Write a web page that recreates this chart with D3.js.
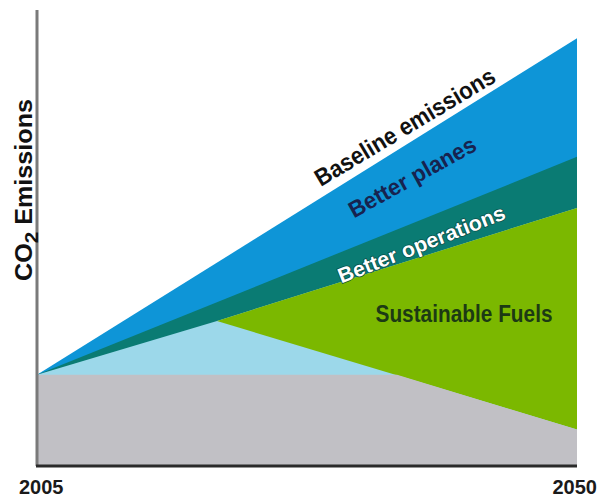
<!DOCTYPE html>
<html lang="en">
<head>
  <meta charset="UTF-8">
  <script src="https://d3js.org/d3.v7.min.js"></script>
  <title>CO2 emissions wedges</title>
  <style>
  body {
    margin:0;
    background-color:#fff;
    font-family: "Liberation Sans", Arial, sans-serif;
  }
  .lbl {
    font-weight: bold;
  }
  </style>
</head>
<body>
  <svg id="chart" width="602" height="501"></svg>

  <script>
  // values (emission index, 2005 = 1)
  const baselineYears = [2005, 2050];
  const baselineVals  = [1.0, 4.69];

  const planesYears = [2005, 2050];
  const planesVals  = [1.0, 3.39];

  const opsYears = [2005, 2020, 2050];
  const opsVals  = [1.0, 1.59, 2.83];

  const fuelsYears = [2020, 2050];
  const fuelsVals  = [1.59, 0.40];

  const capYears = [2005, 2035, 2050];
  const capVals  = [1.0, 1.0, 0.40];

  const xTicks = [2005, 2050];

  let svg = d3.select("#chart");

  let x = d3.scaleLinear().domain([2005, 2050]).range([37, 577]);
  let y = d3.scaleLinear().domain([0, 5]).range([466, 10]);

  function pts(years, vals){
    return years.map((d,i) => ({year:d, v:vals[i]}));
  }

  let area = d3.area()
    .x(d => x(d.year))
    .y0(y(0))
    .y1(d => y(d.v));

  // layers, painted back to front
  svg.append("path").datum(pts(baselineYears, baselineVals))
    .attr("d", area).style("fill", "#0e95d7");

  svg.append("path").datum(pts(planesYears, planesVals))
    .attr("d", area).style("fill", "#0a7b73");

  svg.append("path").datum(pts(opsYears, opsVals))
    .attr("d", area).style("fill", "#9cd8ea");

  // green wedge between operations line and fuels line
  let opsLate = pts(opsYears, opsVals).filter(d => d.year >= 2020);
  let fuels = pts(fuelsYears, fuelsVals);
  let green = d3.area()
    .x(d => x(d.year))
    .y0((d,i) => y(fuels[i].v))
    .y1(d => y(d.v));
  svg.append("path").datum(opsLate)
    .attr("d", green).style("fill", "#7bb800");

  svg.append("path").datum(pts(capYears, capVals))
    .attr("d", area).style("fill", "#c1c0c5");

  // axes
  svg.append("line")
    .attr("x1", x(2005)).attr("x2", x(2005))
    .attr("y1", 10).attr("y2", y(0))
    .style("stroke", "#7a7a7a").style("stroke-width", 3);

  svg.append("line")
    .attr("x1", x(2005) - 1).attr("x2", x(2050))
    .attr("y1", y(0)).attr("y2", y(0))
    .style("stroke", "#2a2a2a").style("stroke-width", 3);

  svg.selectAll(".tick").data(xTicks).enter()
    .append("text")
    .attr("class", "lbl")
    .attr("x", d => d === 2005 ? 19 : 597)
    .attr("y", 494)
    .attr("text-anchor", d => d === 2005 ? "start" : "end")
    .style("font-size", "20px")
    .style("fill", "#1a1a1a")
    .text(d => d);

  // y label
  let yl = svg.append("text")
    .attr("class", "lbl")
    .attr("transform", "translate(32,281) rotate(-90)")
    .attr("textLength", 182)
    .attr("lengthAdjust", "spacingAndGlyphs")
    .style("font-size", "23px")
    .style("fill", "#111");
  yl.append("tspan").text("CO");
  yl.append("tspan").attr("dy", 6).style("font-size", "19px").text("2");
  yl.append("tspan").attr("dy", -6).text(" Emissions");

  // wedge labels
  function label(txt, cx, cy, ang, len, size, color){
    return svg.append("text")
      .attr("class", "lbl")
      .attr("transform", "translate(" + cx + "," + cy + ") rotate(" + ang + ")")
      .attr("text-anchor", "middle")
      .attr("textLength", len)
      .attr("lengthAdjust", "spacingAndGlyphs")
      .style("font-size", size + "px")
      .style("fill", color)
      .text(txt);
  }

  label("Baseline emissions", 409, 134, -31, 206, 24, "#111")
    .style("paint-order", "stroke").style("stroke", "#fff").style("stroke-width", 2);
  label("Better planes", 416, 184, -29, 142, 23, "#17234f");
  label("Better operations", 424, 251, -21.5, 178, 21, "#ffffff")
    .style("paint-order", "stroke").style("stroke", "#0b4f49").style("stroke-width", 1.5);
  label("Sustainable Fuels", 464, 322, 0, 177, 24, "#1c3a14");
  </script>
</body>
</html>
